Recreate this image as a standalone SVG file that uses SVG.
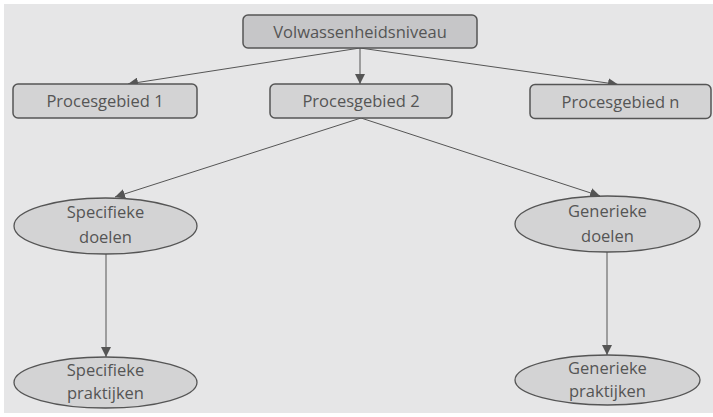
<svg xmlns="http://www.w3.org/2000/svg" width="713" height="417" viewBox="0 0 713 417">
<defs>
<style>
.bg{fill:#e6e6e7}
.box{fill:#d3d3d4;stroke:#555;stroke-width:1.5}
.top{fill:#c6c6c8;stroke:#555;stroke-width:1.5}
.ell{fill:#d3d3d4;stroke:#555;stroke-width:1.3}
.t{font-family:"Open Sans","Noto Sans",sans-serif;font-size:16.5px;fill:#555;text-anchor:middle}
.c{stroke:#555;stroke-width:1;fill:none;marker-end:url(#ah)}
</style>
<marker id="ah" viewBox="0 0 10 10" refX="10" refY="5" markerWidth="10" markerHeight="10" markerUnits="userSpaceOnUse" orient="auto">
<path d="M0,0 L10,5 L0,10 Z" fill="#555"/>
</marker>
</defs>
<rect class="bg" x="4" y="4" width="709" height="409"/>
<g id="connectors">
<line class="c" x1="360" y1="48" x2="128" y2="84"/>
<line class="c" x1="360" y1="48" x2="360" y2="84"/>
<line class="c" x1="360" y1="48" x2="618" y2="84.5"/>
<line class="c" x1="361" y1="118" x2="115" y2="197"/>
<line class="c" x1="361" y1="118" x2="600" y2="196"/>
<line class="c" x1="106" y1="254" x2="106" y2="357"/>
<line class="c" x1="607" y1="252" x2="607" y2="355"/>
</g>
<g id="volwassenheidsniveau">
<rect class="top" x="243" y="15" width="234" height="33" rx="5"/>
<text class="t" x="360" y="37.5">Volwassenheidsniveau</text>
</g>
<g id="procesgebied1">
<rect class="box" x="13" y="84" width="184" height="34" rx="5"/>
<text class="t" x="105" y="107">Procesgebied 1</text>
</g>
<g id="procesgebied2">
<rect class="box" x="270" y="84" width="182" height="34" rx="5"/>
<text class="t" x="361" y="107">Procesgebied 2</text>
</g>
<g id="procesgebiedn">
<rect class="box" x="530" y="84.5" width="181" height="34" rx="5"/>
<text class="t" x="620.5" y="107.5">Procesgebied n</text>
</g>
<g id="specifieke-doelen">
<ellipse class="ell" cx="105.5" cy="226" rx="91.5" ry="28"/>
<text class="t" x="105.5" y="218">Specifieke<tspan x="105.5" dy="24.5">doelen</tspan></text>
</g>
<g id="generieke-doelen">
<ellipse class="ell" cx="607.5" cy="224" rx="92.5" ry="28"/>
<text class="t" x="607.5" y="217">Generieke<tspan x="607.5" dy="25">doelen</tspan></text>
</g>
<g id="specifieke-praktijken">
<ellipse class="ell" cx="105.5" cy="382.5" rx="91.5" ry="25.5"/>
<text class="t" x="105.5" y="375.5">Specifieke<tspan x="105.5" dy="23">praktijken</tspan></text>
</g>
<g id="generieke-praktijken">
<ellipse class="ell" cx="607.5" cy="380" rx="92.5" ry="25"/>
<text class="t" x="607.5" y="373.5">Generieke<tspan x="607.5" dy="23">praktijken</tspan></text>
</g>
</svg>
